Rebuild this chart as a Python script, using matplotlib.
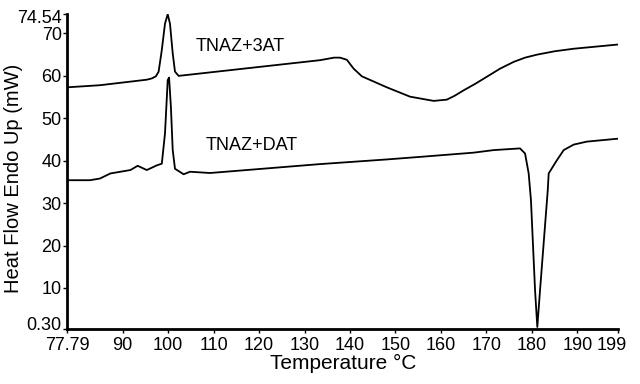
import matplotlib
matplotlib.use('Agg')
import matplotlib.pyplot as plt
from matplotlib.transforms import ScaledTranslation

plt.rcParams['font.family'] = ['Liberation Sans', 'DejaVu Sans']

# TNAZ+3AT trace (temperature, heat flow)
t_3at = [77.79, 85.0, 95.3, 96.4, 97.3, 97.9, 98.6, 99.3, 99.9, 100.4, 101.0, 101.5, 102.3,
         133.4, 136.5, 137.8, 139.3, 140.8, 142.6, 148.1, 153.2, 158.4, 161.3, 163.0,
         165.0, 167.5, 170.1, 173.0, 176.0, 178.5, 181.1, 185.0, 189.2, 199.0]
hf_3at = [57.3, 57.8, 59.1, 59.4, 59.9, 61.0, 66.1, 72.3, 74.54, 72.3, 65.3, 61.0, 60.0,
          63.7, 64.3, 64.3, 63.8, 61.7, 59.9, 57.3, 55.1, 54.1, 54.4, 55.3,
          56.6, 58.1, 59.8, 61.7, 63.3, 64.3, 65.0, 65.8, 66.4, 67.4]

# TNAZ+DAT trace
t_dat = [77.79, 82.8, 85.0, 87.3, 91.7, 93.3, 95.3, 97.5, 98.6, 99.3, 99.9, 100.2,
         100.6, 101.0, 101.5, 103.4, 104.8, 109.2, 133.4, 148.1, 155.4, 167.2,
         171.6, 177.4, 178.5, 179.3, 179.8, 180.7, 181.2, 181.8, 183.5, 183.7,
         185.5, 187.0, 189.2, 192.1, 199.0]
hf_dat = [35.4, 35.4, 35.8, 37.0, 37.8, 38.8, 37.8, 38.9, 39.3, 46.4, 59.0, 59.6,
          52.7, 42.5, 38.1, 36.8, 37.4, 37.1, 39.2, 40.3, 40.9, 41.9,
          42.5, 42.9, 41.7, 37.0, 30.7, 9.5, 0.8, 9.5, 33.1, 37.0,
          40.1, 42.5, 43.8, 44.5, 45.2]

xticks = [77.79, 90, 100, 110, 120, 130, 140, 150, 160, 170, 180, 190, 199]
xticklabels = ['77.79', '90', '100', '110', '120', '130', '140', '150', '160', '170', '180', '190', '199']
yticks = [0.30, 10, 20, 30, 40, 50, 60, 70, 74.54]
yticklabels = ['0.30', '10', '20', '30', '40', '50', '60', '70', '74.54']

fig = plt.figure(figsize=(6.4, 3.84), dpi=100)
ax = fig.add_axes([0.105, 0.143, 0.861, 0.820])

ax.plot(t_3at, hf_3at, color='black', linewidth=1.3)
ax.plot(t_dat, hf_dat, color='black', linewidth=1.3)

ax.text(106.0, 67.0, 'TNAZ+3AT', fontsize=13, ha='left', va='center')
ax.text(108.2, 43.7, 'TNAZ+DAT', fontsize=13, ha='left', va='center')

ax.set_xlim(77.79, 199)
ax.set_ylim(0.30, 74.54)
ax.set_xticks(xticks)
ax.set_xticklabels(xticklabels)
ax.set_yticks(yticks)
ax.set_yticklabels(yticklabels)
ax.tick_params(labelsize=13, length=3, width=1)
ax.tick_params(axis='x', pad=3)
ax.tick_params(axis='y', pad=1)

# end labels nudged inward like the original
ylab = ax.get_yticklabels()
ylab[0].set_transform(ylab[0].get_transform() + ScaledTranslation(0, 4 / 72, fig.dpi_scale_trans))
ylab[-1].set_transform(ylab[-1].get_transform() + ScaledTranslation(0, -2 / 72, fig.dpi_scale_trans))
xlab = ax.get_xticklabels()
xlab[-1].set_transform(xlab[-1].get_transform() + ScaledTranslation(-5 / 72, 0, fig.dpi_scale_trans))

for s in ['top', 'right']:
    ax.spines[s].set_visible(False)
for s in ['left', 'bottom']:
    ax.spines[s].set_linewidth(2)

ax.set_xlabel('Temperature °C', fontsize=15, labelpad=0)
ax.set_ylabel('Heat Flow Endo Up (mW)', fontsize=14.5)
ax.yaxis.set_label_coords(-0.08, 0.48)

plt.savefig('out.png')
